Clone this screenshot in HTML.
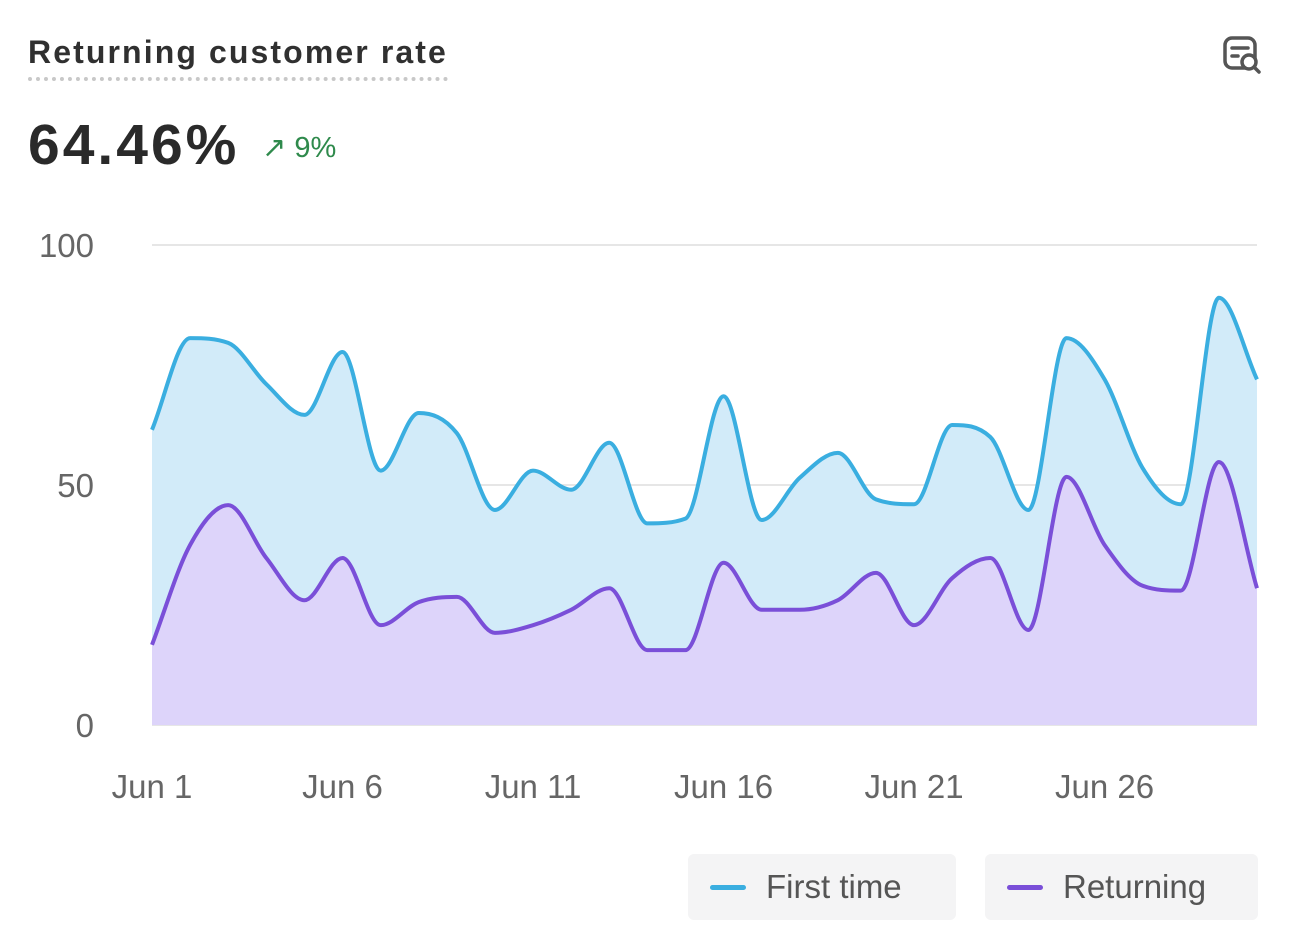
<!DOCTYPE html>
<html><head><meta charset="utf-8"><style>
body{margin:0;background:#fff;font-family:"Liberation Sans",sans-serif;}
#wrap{position:relative;width:1292px;height:946px;overflow:hidden;}
.title{position:absolute;left:28px;top:34px;font-size:32px;color:#303030;font-weight:bold;letter-spacing:2.1px;padding-bottom:6px;border-bottom:4px dotted #c8c8c8}
.val{position:absolute;left:28px;top:112px;font-size:57px;font-weight:bold;color:#2a2a2a;letter-spacing:3px}
.delta{position:absolute;left:262px;top:130px;font-size:29px;color:#2f8a4c}
.legend{position:absolute;top:854px;height:66px;background:#f4f4f5;border-radius:6px;font-size:33px;color:#555;display:flex;align-items:center}
.sw{width:36px;height:5px;border-radius:3px;margin:0 20px 0 22px}
</style></head><body>
<div id="wrap">
<div class="title">Returning customer rate</div>
<div class="val">64.46%</div>
<div class="delta">↗ 9%</div>
<svg style="position:absolute;left:1222px;top:35px" width="42" height="40" viewBox="0 0 42 40">
<rect x="3" y="3" width="30" height="30" rx="7" fill="none" stroke="#555" stroke-width="3.5"/>
<line x1="10" y1="13" x2="26" y2="13" stroke="#555" stroke-width="3.5" stroke-linecap="round"/>
<line x1="10" y1="21" x2="16" y2="21" stroke="#555" stroke-width="3.5" stroke-linecap="round"/>
<circle cx="27" cy="27" r="7" fill="#fff" stroke="#555" stroke-width="3.5"/>
<line x1="32" y1="32" x2="37" y2="37" stroke="#555" stroke-width="3.5" stroke-linecap="round"/>
</svg>
<svg id="chart" width="1292" height="846" style="position:absolute;left:0;top:0"></svg>
<div class="legend" style="left:688px;width:268px"><div class="sw" style="background:#3aaee0"></div>First time</div>
<div class="legend" style="left:985px;width:273px"><div class="sw" style="background:#7a4fd8"></div>Returning</div>
</div>
<script>
const firstTime=[61.5,80.6,79.6,71,64.6,77.7,53,65,60.8,44.8,53,49,58.8,42,43,68.5,42.7,51.5,56.7,47,46,62.5,60,44.8,80.6,72,53.5,46,89,72];
const returning=[16.7,37.5,45.8,34.8,26,34.8,20.8,25.6,26.7,19.2,20.8,24,28.5,15.6,15.6,33.8,24,24,26,31.7,20.8,30.6,34.8,19.8,51.7,37.5,29,28,54.8,28.5];
const yTicks=[0,50,100];
const xTickIdx=[0,5,10,15,20,25];
const xTickLabels=["Jun 1","Jun 6","Jun 11","Jun 16","Jun 21","Jun 26"];
const X0=152,X1=1257,Y0=725,Y100=245;
const xs=i=>X0+(X1-X0)*i/(firstTime.length-1);
const ys=v=>Y0-(Y0-Y100)*v/100;
const svg=document.getElementById('chart');
const NS='http://www.w3.org/2000/svg';
function mk(t,a){const e=document.createElementNS(NS,t);for(const k in a)e.setAttribute(k,a[k]);svg.appendChild(e);return e;}
function mono(vals){
  const p=vals.map((v,i)=>[xs(i),ys(v)]);const n=p.length;const d=[],m=[];
  for(let i=0;i<n-1;i++)d.push((p[i+1][1]-p[i][1])/(p[i+1][0]-p[i][0]));
  for(let i=0;i<n;i++){if(i==0)m.push(d[0]);else if(i==n-1)m.push(d[n-2]);else m.push(d[i-1]*d[i]<=0?0:(d[i-1]+d[i])/2);}
  for(let i=0;i<n-1;i++){if(d[i]==0){m[i]=0;m[i+1]=0;continue;}const a=m[i]/d[i],b=m[i+1]/d[i],s=a*a+b*b;if(s>9){const t=3/Math.sqrt(s);m[i]=t*a*d[i];m[i+1]=t*b*d[i];}}
  let s=`M${p[0][0]},${p[0][1]}`;
  for(let i=0;i<n-1;i++){const h=(p[i+1][0]-p[i][0])/3;s+=` C${p[i][0]+h},${p[i][1]+m[i]*h} ${p[i+1][0]-h},${p[i+1][1]-m[i+1]*h} ${p[i+1][0]},${p[i+1][1]}`;}
  return s;}
yTicks.forEach(t=>{
  const g=mk('line',{x1:X0,x2:X1,y1:ys(t),y2:ys(t),stroke:'#e6e6e6','stroke-width':2});
  
  const l=mk('text',{x:94,y:ys(t)+12,'text-anchor':'end','font-size':33,fill:'#666','font-family':'Liberation Sans'});
  l.textContent=t;
});
xTickIdx.forEach((idx,k)=>{
  const l=mk('text',{x:xs(idx),y:798,'text-anchor':'middle','font-size':33,fill:'#666','font-family':'Liberation Sans'});
  l.textContent=xTickLabels[k];
});
const pf=mono(firstTime),pr=mono(returning);
const base=` L${X1},${Y0} L${X0},${Y0} Z`;
const a1=mk('path',{d:pf+base,fill:'#d2ebf9'});
const a2=mk('path',{d:pr+base,fill:'#ddd4fa'});
const l1=mk('path',{d:pf,fill:'none',stroke:'#3aaee0','stroke-width':4});
const l2=mk('path',{d:pr,fill:'none',stroke:'#7a4fd8','stroke-width':4});
</script>
</body></html>
